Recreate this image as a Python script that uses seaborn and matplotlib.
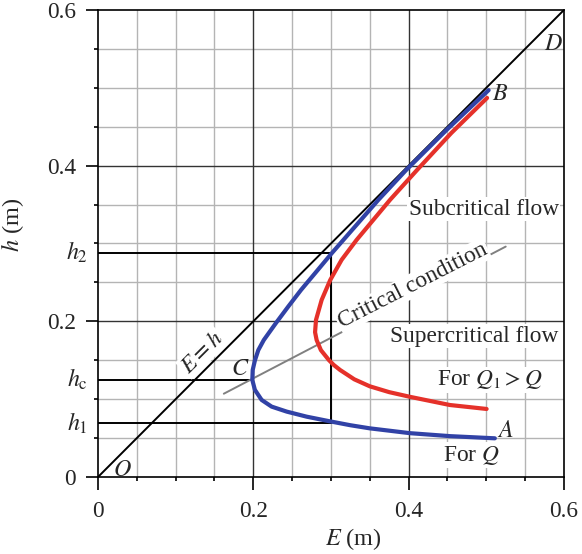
import matplotlib
matplotlib.use("Agg")
import matplotlib.pyplot as plt
import seaborn as sns
import numpy as np

# ---- data ----
# specific-energy curve for Q (blue), ordered from A through C to B
E_Q = [0.511, 0.453, 0.4017, 0.350, 0.325, 0.2987, 0.2687, 0.243, 0.2236, 0.2107,
       0.202, 0.1987, 0.1992, 0.2021, 0.2064, 0.2135, 0.229, 0.245, 0.2615, 0.2795,
       0.301, 0.316, 0.361, 0.397, 0.45, 0.503]
h_Q = [0.0497, 0.0525, 0.0563, 0.0625, 0.0665, 0.0715, 0.0775, 0.0840, 0.0904, 0.099,
       0.112, 0.1247, 0.1375, 0.150, 0.163, 0.176, 0.1976, 0.219, 0.2404, 0.2618,
       0.2875, 0.3046, 0.356, 0.3946, 0.447, 0.497]

# specific-energy curve for Q1 > Q (red)
E_Q1 = [0.5004, 0.453, 0.4017, 0.375, 0.350, 0.330, 0.3117, 0.3035, 0.2975, 0.287,
        0.2815, 0.2795, 0.2807, 0.288, 0.299, 0.3137, 0.333, 0.376, 0.411, 0.455, 0.501]
h_Q1 = [0.0874, 0.0925, 0.103, 0.109, 0.1165, 0.1255, 0.1375, 0.144, 0.150, 0.163,
        0.176, 0.186, 0.2018, 0.2275, 0.253, 0.279, 0.3046, 0.356, 0.3946, 0.442, 0.487]

E_diag = [0.0, 0.6]
h_diag = [0.0, 0.6]

E_crit = [0.162, 0.525]
h_crit = [0.107, 0.296]

h1, hc, h2 = 0.069, 0.125, 0.288
E_c = 0.196
E_v = 0.30

major_ticks = [0.0, 0.2, 0.4, 0.6]
major_labels = ["0", "0.2", "0.4", "0.6"]

# ---- style ----
sns.set_theme(style="white")
plt.rcParams["font.family"] = ["Liberation Serif", "DejaVu Serif"]
plt.rcParams["mathtext.fontset"] = "stix"

FS = 16.8

fig = plt.figure(figsize=(5.82, 5.54), dpi=100)
ax = fig.add_axes([0.1684, 0.139, 0.8006, 0.843])

ax.set_xlim(0, 0.6)
ax.set_ylim(0, 0.6)

# grid
minor = np.arange(0.05, 0.6, 0.05)
for v in minor:
    if abs(round(v / 0.2) * 0.2 - v) < 1e-6:
        continue
    ax.axvline(v, color="#b4b4b4", lw=1.0, zorder=0)
    ax.axhline(v, color="#b4b4b4", lw=1.0, zorder=0)
for v in [0.2, 0.4]:
    ax.axvline(v, color="#333333", lw=1.0, zorder=0.5)
    ax.axhline(v, color="#333333", lw=1.0, zorder=0.5)

# black helper lines
black = dict(color="black", lw=1.4, zorder=2)
sns.lineplot(x=E_diag, y=h_diag, ax=ax, sort=False, estimator=None, **black)
sns.lineplot(x=[0, E_v], y=[h2, h2], ax=ax, sort=False, estimator=None, **black)
sns.lineplot(x=[0, E_v], y=[h1, h1], ax=ax, sort=False, estimator=None, **black)
sns.lineplot(x=[0, E_c], y=[hc, hc], ax=ax, sort=False, estimator=None, **black)
sns.lineplot(x=[E_v, E_v], y=[h1, h2], ax=ax, sort=False, estimator=None, **black)

# critical line
sns.lineplot(x=E_crit, y=h_crit, ax=ax, sort=False, estimator=None,
             color="#808080", lw=1.4, zorder=3)

# curves
sns.lineplot(x=E_Q1, y=h_Q1, ax=ax, sort=False, estimator=None,
             color="#e5312a", lw=3.0, zorder=4)
sns.lineplot(x=E_Q, y=h_Q, ax=ax, sort=False, estimator=None,
             color="#3142a6", lw=3.0, zorder=5)
for ln in ax.lines[-2:]:
    ln.set_solid_joinstyle("round")

# spines & ticks
for s in ax.spines.values():
    s.set_visible(True)
    s.set_color("black")
    s.set_linewidth(1.2)

ax.set_xticks(major_ticks)
ax.set_xticklabels(major_labels)
ax.set_yticks(major_ticks)
ax.set_yticklabels(major_labels)
ax.set_xticks(minor, minor=True)
ax.set_yticks(minor, minor=True)
ax.tick_params(axis="both", which="major", direction="out", length=9, width=1.2,
               labelsize=FS, color="black", bottom=True, left=True)
ax.tick_params(axis="x", which="major", pad=8)
ax.tick_params(axis="y", which="major", pad=7)
ax.tick_params(axis="both", which="minor", direction="out", length=3, width=1.2,
               color="black", bottom=True, left=True)

# h labels on the y axis
bt = ax.get_yaxis_transform()
for val, lab in [(h1, r"$h_1$"), (hc, r"$h_\mathrm{c}$"), (h2, r"$h_2$")]:
    ax.text(-0.022, val, lab, transform=bt, ha="right", va="center", fontsize=FS + 0.5)

ax.set_xlabel(r"$E$ (m)", fontsize=17.5)
ax.set_ylabel(r"$h$ (m)", fontsize=17.5)
ax.xaxis.set_label_coords(0.549, -0.105)
ax.yaxis.set_label_coords(-0.155, 0.54)

# annotations
wbox = dict(facecolor="white", edgecolor="none", pad=1.0)
ax.text(0.400, 0.344, "Subcritical flow", fontsize=FS, ha="left", va="center",
        bbox=wbox, zorder=6)
ax.text(0.376, 0.181, "Supercritical flow", fontsize=FS, ha="left", va="center",
        bbox=wbox, zorder=6)
ax.text(0.405, 0.246, "Critical condition", fontsize=FS, ha="center", va="center",
        rotation=27, rotation_mode="anchor", bbox=wbox, zorder=6)
ax.text(0.436, 0.125, r"For $Q_1 > Q$", fontsize=FS, ha="left", va="center",
        bbox=wbox, zorder=6)
ax.text(0.444, 0.028, r"For $Q$", fontsize=FS, ha="left", va="center",
        bbox=wbox, zorder=6)
ax.text(0.134, 0.160, r"$E = h$", fontsize=FS, ha="center", va="center",
        rotation=45, rotation_mode="anchor", bbox=wbox, zorder=6)
for x, y, t in [(0.524, 0.058, "A"), (0.518, 0.492, "B"), (0.183, 0.1375, "C"),
                (0.586, 0.556, "D"), (0.031, 0.008, "O")]:
    ax.text(x, y, rf"${t}$", fontsize=FS + 0.5, ha="center", va="center", zorder=7)

fig.savefig("out.png", dpi=100)
